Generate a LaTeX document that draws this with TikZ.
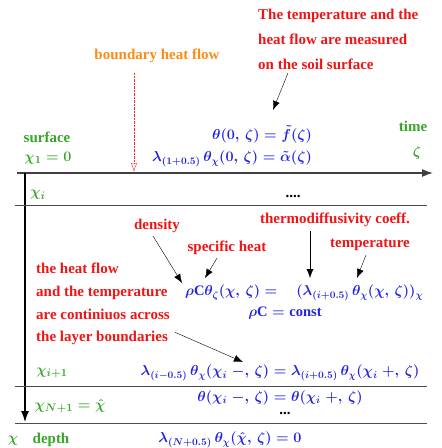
\documentclass[tikz,border=0pt]{standalone}
\usepackage{fontspec}
\setmainfont{Liberation Serif}
\usetikzlibrary{arrows.meta}
\definecolor{eqblue}{RGB}{35,35,225}
\definecolor{axgreen}{RGB}{55,165,40}
\definecolor{notered}{RGB}{240,20,20}
\definecolor{floworange}{RGB}{250,140,20}

\begin{document}
\begin{tikzpicture}[x=1pt,y=-1pt,
  font=\bfseries\boldmath\fontsize{15}{17}\selectfont,
  note/.style={text=notered,inner sep=0pt},
  eq/.style={text=eqblue,inner sep=0pt,font=\bfseries\boldmath\fontsize{14.5}{17}\selectfont},
  ax/.style={text=axgreen,inner sep=0pt},
  ptr/.style={-{Latex[length=9pt,width=7pt]}},
  layer/.style={black!70,line width=0.9pt}]
\useasboundingbox (0,0) rectangle (442,448);

\coordinate (o) at (17,173);
\coordinate (tend) at (433,173);
\coordinate (top) at (25,173);
\coordinate (xend) at (25,422);
\draw[black!75,line width=1.3pt,-{Latex[length=11pt,width=8pt]}] (o) -- (tend);
\draw[black,line width=1.1pt,-{Latex[length=11pt,width=8pt]}] (top) -- (xend);

\coordinate (l1a) at (15,205);
\coordinate (l1b) at (427,205);
\coordinate (l2a) at (15,386);
\coordinate (l2b) at (427,386);
\coordinate (l3a) at (15,423);
\coordinate (l3b) at (427,423);
\draw[layer] (l1a) -- (l1b);
\draw[layer] (l2a) -- (l2b);
\draw[layer] (l3a) -- (l3b);

\node[text=floworange,inner sep=0pt] (bhf) at (157,56) {boundary heat flow};
\coordinate (bhftail) at (134,73);
\coordinate (bhftip) at (134,172);
\draw[red!85,densely dotted,-{Latex[length=9pt,width=6pt,fill=red,open=false]}] (bhftail) -- (bhftip);

\node[note,anchor=north west,align=left,font=\bfseries\fontsize{15}{25}\selectfont] (meas) at (258,9)
  {The temperature and the\\heat flow are measured\\on the soil surface};
\coordinate (meastip) at (273,110);
\draw[ptr] ([xshift=30pt,yshift=-3pt]meas.south west) -- (meastip);

\node[ax] (surf) at (47,137) {surface};
\node[ax] (x1) at (48,158) {$\chi_1=0$};
\node[ax] (time) at (413,126) {time};
\node[ax] (zeta) at (417,153) {$\zeta$};

\node[eq] (bc1) at (262,134) {$\theta(0,\,\zeta)=\tilde{f}(\zeta)$};
\node[eq] (bc2) at (232,159) {$\lambda_{(1+0.5)}\,\theta_\chi(0,\,\zeta)=\tilde{\alpha}(\zeta)$};

\node[ax] (xi) at (38,195) {$\chi_i$};
\node (dots1) at (293,196) {....};

\node[eq,anchor=west] (heq) at (185,293)
  {$\rho\mathrm{C}\theta_\zeta(\chi,\,\zeta)=\quad(\lambda_{(i+0.5)}\,\theta_\chi(\chi,\,\zeta))_\chi$};
\node[eq] (rhoc) at (285,313) {$\rho\mathrm{C}=\mathrm{const}$};

\node[note] (dens) at (157,226) {density};
\node[note] (spec) at (227,248) {specific heat};
\node[note] (diff) at (335,220) {thermodiffusivity coeff.};
\node[note] (temp) at (370,245) {temperature};
\coordinate (denstip) at (182,283);
\coordinate (spectip) at (205,278);
\coordinate (difftip) at (310,278);
\coordinate (temptip) at (357,278);
\draw[ptr] ([xshift=-4pt,yshift=-3pt]dens.south) -- (denstip);
\draw[ptr] ([xshift=-10pt,yshift=-3pt]spec.south) -- (spectip);
\draw[ptr] ([xshift=-25pt,yshift=-4pt]diff.south) -- (difftip);
\draw[ptr] ([xshift=-4pt,yshift=-4pt]temp.south) -- (temptip);

\node[note,anchor=north west,align=left,font=\bfseries\fontsize{15}{22.7}\selectfont] (cont) at (36,263)
  {the heat flow\\and the temperature\\are continiuos across\\the layer boundaries};
\coordinate (conttip) at (243,362);
\draw[ptr] ([xshift=5pt,yshift=13pt]cont.south east) -- (conttip);

\node[ax] (xi1) at (52,373) {$\chi_{i+1}$};
\node[eq] (jump1) at (280,373)
  {$\lambda_{(i-0.5)}\,\theta_\chi(\chi_i\;-,\,\zeta)=\lambda_{(i+0.5)}\,\theta_\chi(\chi_i\;+,\,\zeta)$};
\node[eq] (jump2) at (280,398) {$\theta(\chi_i\;-,\,\zeta)=\theta(\chi_i\;+,\,\zeta)$};
\node (dots2) at (285,413) {...};
\node[ax] (xn) at (70,406) {$\chi_{N+1}=\hat{\chi}$};

\node[ax] (chi) at (13,441) {$\chi$};
\node[ax] (depth) at (51,440) {depth};
\node[eq] (bc3) at (230,440) {$\lambda_{(N+0.5)}\,\theta_\chi(\hat{\chi},\,\zeta)=0$};
\end{tikzpicture}
\end{document}
